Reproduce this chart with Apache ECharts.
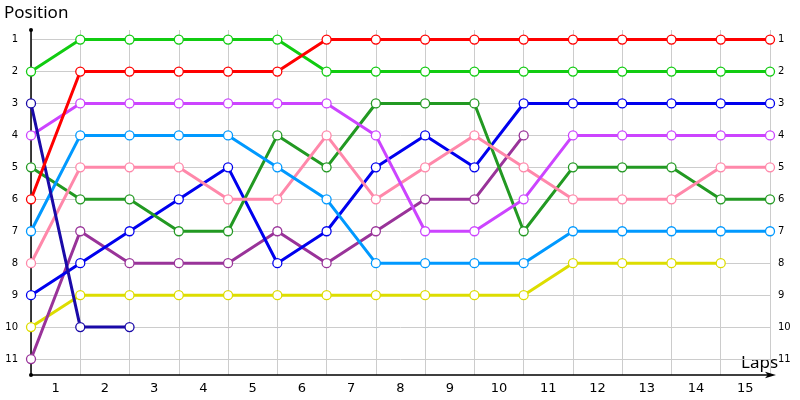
<!DOCTYPE html>
<html><head><meta charset="utf-8">
<script src="https://cdn.jsdelivr.net/npm/echarts@6/dist/echarts.min.js"></script>
<style>html,body{margin:0;padding:0;background:#fff}#c{width:800px;height:400px}</style>
</head><body><div id="c"></div>
<script>
const lapLabels = ['1','2','3','4','5','6','7','8','9','10','11','12','13','14','15'];
const positionTicks = [1,2,3,4,5,6,7,8,9,10,11];
// positions at lap 0..n
const red       = [6,2,2,2,2,2,1,1,1,1,1,1,1,1,1,1];
const green     = [2,1,1,1,1,1,2,2,2,2,2,2,2,2,2,2];
const navy      = [3,10,10];
const violet    = [4,3,3,3,3,3,3,4,7,7,6,4,4,4,4,4];
const lightBlue = [7,4,4,4,4,5,6,8,8,8,8,7,7,7,7,7];
const pink      = [8,5,5,5,6,6,4,6,5,4,5,6,6,6,5,5];
const darkGreen = [5,6,6,7,7,4,5,3,3,3,7,5,5,5,6,6];
const blue      = [9,8,7,6,5,8,7,5,4,5,3,3,3,3,3,3];
const purple    = [11,7,8,8,8,7,8,7,6,6,4];
const yellow    = [10,9,9,9,9,9,9,9,9,9,9,8,8,8,8];

const seriesDefs = [
  [yellow,'#dddd00'],
  [purple,'#993399'],
  [blue,'#0000ee'],
  [darkGreen,'#229922'],
  [pink,'#ff88aa'],
  [lightBlue,'#0099ff'],
  [violet,'#cc44ff'],
  [navy,'#1a0aa8'],
  [green,'#11cc11'],
  [red,'#ff0000']
];

const chart = echarts.init(document.getElementById('c'), null, {renderer:'canvas'});
const yCommon = {
  type:'value', inverse:true, min:0.7, max:11.5, splitNumber:11,
};
chart.setOption({
  animation:false,
  grid:{left:31, right:30, top:30, bottom:25},
  xAxis:[
    {type:'value', min:0, max:15, interval:1,
     axisLine:{show:true, lineStyle:{color:'#000', width:1.5}, symbol:['none','arrow'], symbolSize:[5,11], symbolOffset:[0,6]},
     axisTick:{show:false}, axisLabel:{show:false},
     splitLine:{show:true, lineStyle:{color:'#cccccc', width:1}}},
    {type:'category', data:lapLabels, boundaryGap:true, position:'bottom',
     axisLine:{show:false}, axisTick:{show:false},
     axisLabel:{color:'#000', fontSize:13, margin:7, fontFamily:'DejaVu Sans'},
     splitLine:{show:false}}
  ],
  yAxis:[
    Object.assign({}, yCommon, {position:'left',
     axisLine:{show:true, lineStyle:{color:'#000', width:1.5}, symbol:['circle','circle'], symbolSize:[4,4]},
     axisTick:{show:false},
     axisLabel:{color:'#000', fontSize:10, margin:13, showMinLabel:false, showMaxLabel:false, fontFamily:'DejaVu Sans',
       formatter: v => positionTicks.includes(v) ? String(v) : ''},
     splitLine:{show:true, showMinLine:false, showMaxLine:false, lineStyle:{color:'#cccccc', width:1}}}),
    Object.assign({}, yCommon, {position:'right',
     axisLine:{show:false}, axisTick:{show:false},
     axisLabel:{color:'#000', fontSize:10, margin:8, showMinLabel:false, showMaxLabel:false, fontFamily:'DejaVu Sans',
       formatter: v => positionTicks.includes(v) ? String(v) : ''},
     splitLine:{show:false}})
  ],
  graphic:[
    {type:'text', left:4, top:5, style:{text:'Position', fill:'#000', fontSize:17, fontFamily:'Noto Sans'}},
    {type:'text', left:741, top:355, style:{text:'Laps', fill:'#000', fontSize:17, fontFamily:'Noto Sans'}}
  ],
  series: seriesDefs.map(([vals,color]) => ({
    type:'line', xAxisIndex:0, yAxisIndex:0,
    data: vals.map((v,i) => [i, v]),
    symbol:'circle', symbolSize:9, showAllSymbol:true,
    lineStyle:{color:color, width:3},
    itemStyle:{color:'#ffffff', borderColor:color, borderWidth:1.3},
    emphasis:{disabled:true}
  }))
});
</script>
</body></html>
